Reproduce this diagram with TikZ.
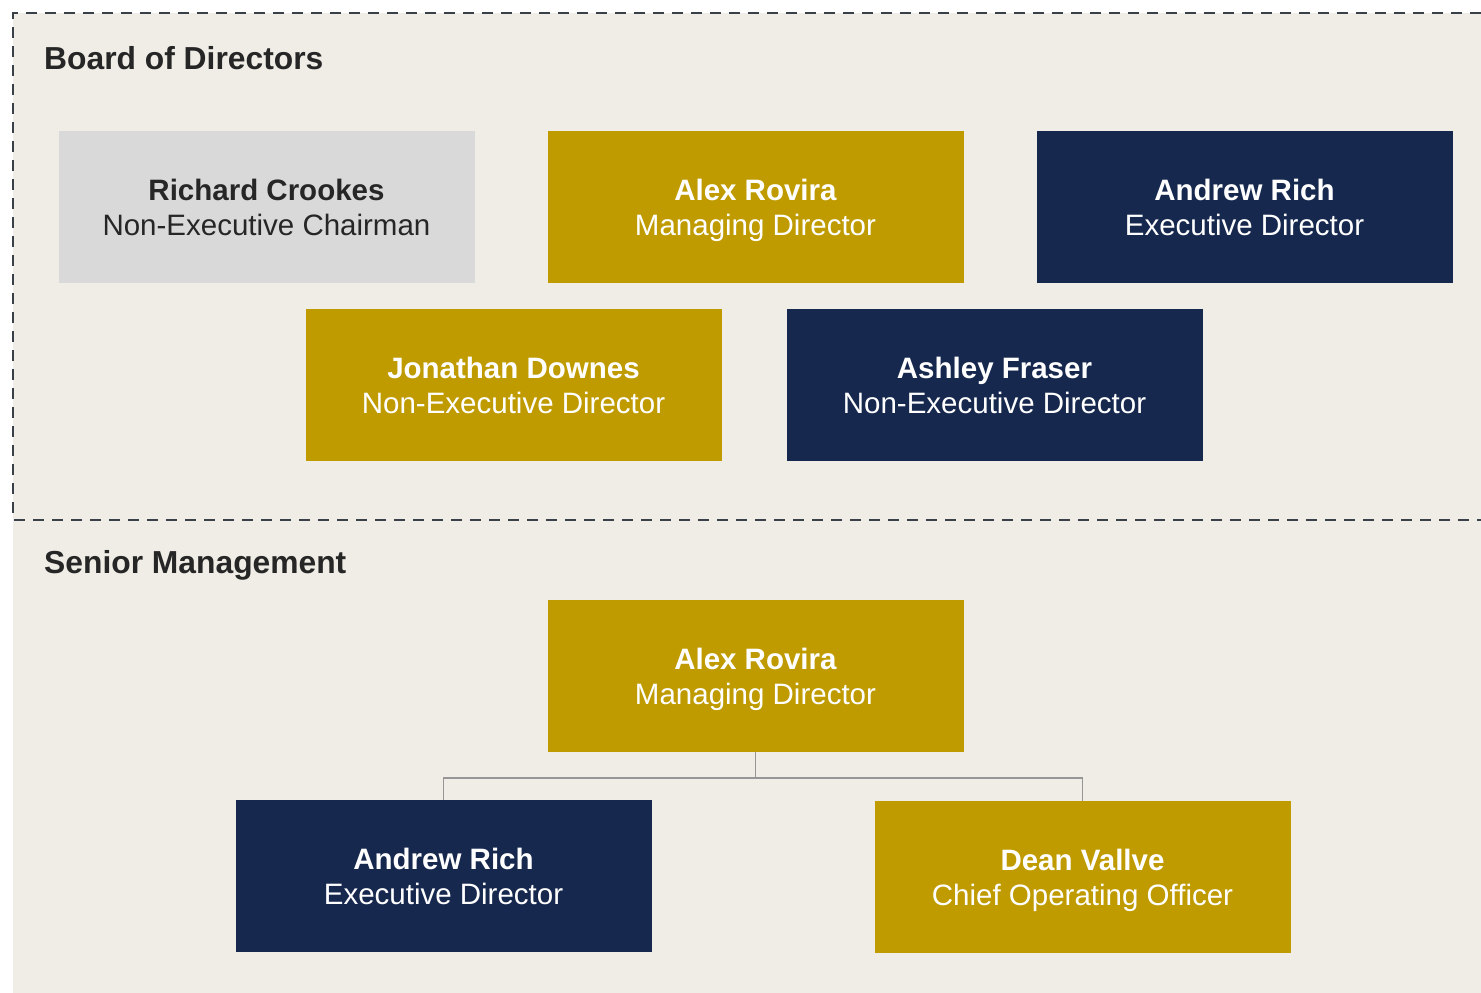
\documentclass[tikz,border=0pt]{standalone}
\usepackage{fontspec}
\setmainfont{Liberation Sans}
\definecolor{bg}{RGB}{240,237,230}
\definecolor{gold}{RGB}{191,155,0}
\definecolor{navy}{RGB}{22,40,78}
\definecolor{lgray}{RGB}{217,217,217}
\definecolor{dashc}{RGB}{58,64,72}
\definecolor{darktext}{RGB}{38,38,38}
\definecolor{conn}{RGB}{150,150,150}
\newcommand{\lnstrut}{\rule[-7pt]{0pt}{35pt}}
\newcommand{\pbox}[2]{\lnstrut\textbf{#1}\\\lnstrut #2}
\begin{document}
\begin{tikzpicture}[x=1pt,y=-1pt,
  person/.style={rectangle, minimum width=416pt, minimum height=152pt, inner sep=0pt, align=center,
    font=\fontsize{29.5}{35}\selectfont},
  goldbox/.style={person, fill=gold, text=white},
  navybox/.style={person, fill=navy, text=white},
  graybox/.style={person, fill=lgray, text=darktext},
  header/.style={anchor=base west, inner sep=0pt, font=\fontsize{31.8}{36}\selectfont\bfseries, text=darktext},
  link/.style={draw=conn, line width=1.5pt}]
\useasboundingbox (0,0) rectangle (1481,993);
\fill[white] (0,0) rectangle (1481,993);
\fill[bg] (13,13) rectangle (1481,993);
\draw[dashc, line width=2.5pt, dash pattern=on 11pt off 8pt] (1481,13) -- (13,13) -- (13,520) -- (1481,520);

\node[header] (hb) at (44,69) {Board of Directors};
\node[header] (hs) at (44,573) {Senior Management};

\node[graybox] (rc) at (266.5,207) {\pbox{Richard Crookes}{Non-Executive Chairman}};
\node[goldbox] (ar) at (755.5,207) {\pbox{Alex Rovira}{Managing Director}};
\node[navybox] (an) at (1244.5,207) {\pbox{Andrew Rich}{Executive Director}};
\node[goldbox] (jd) at (513.5,385) {\pbox{Jonathan Downes}{Non-Executive Director}};
\node[navybox] (af) at (994.5,385) {\pbox{Ashley Fraser}{Non-Executive Director}};

\node[goldbox] (sm) at (755.5,676) {\pbox{Alex Rovira}{Managing Director}};
\node[navybox] (ed) at (443.5,876) {\pbox{Andrew Rich}{Executive Director}};
\node[goldbox] (dv) at (1082.5,877) {\pbox{Dean Vallve}{Chief Operating Officer}};

\coordinate (jn) at ([yshift=-26pt]sm.south);
\draw[link] (sm.south) -- (jn) -| (ed.north);
\draw[link] (jn) -| (dv.north);
\end{tikzpicture}
\end{document}
